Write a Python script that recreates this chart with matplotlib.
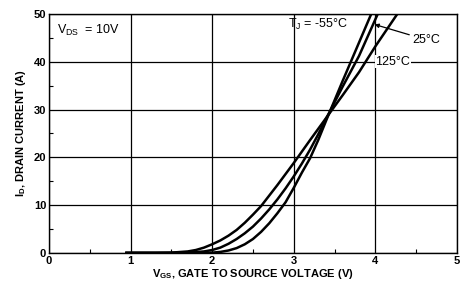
import matplotlib
matplotlib.use("Agg")
import matplotlib.pyplot as plt
from matplotlib.ticker import MultipleLocator

plt.rcParams['font.family'] = ['Liberation Sans Narrow', 'Liberation Sans', 'DejaVu Sans']

# transfer characteristics
vgs_125 = [0.95, 1.3, 1.5, 1.7, 1.8, 1.9, 2.0, 2.1, 2.2, 2.3, 2.4, 2.5, 2.6, 2.8, 3.0, 3.2, 3.4, 3.6, 3.8, 4.0, 4.27]
id_125 = [0, 0, 0.05, 0.3, 0.6, 1.1, 1.8, 2.6, 3.6, 4.8, 6.3, 8.0, 9.8, 14.2, 18.8, 23.6, 28.3, 33.0, 37.8, 43.2, 50]

vgs_25 = [0.95, 1.5, 1.7, 1.9, 2.0, 2.1, 2.2, 2.3, 2.4, 2.5, 2.6, 2.7, 2.8, 2.9, 3.0, 3.1, 3.2, 3.3, 3.4, 3.6, 3.8, 4.03]
id_25 = [0, 0, 0.05, 0.3, 0.6, 1.1, 1.9, 2.9, 4.1, 5.5, 7.2, 9.1, 11.2, 13.5, 16.0, 18.7, 21.6, 24.8, 28.2, 34.8, 41.2, 50]

vgs_m55 = [0.95, 1.8, 2.0, 2.1, 2.2, 2.3, 2.4, 2.5, 2.6, 2.7, 2.8, 2.9, 3.0, 3.1, 3.2, 3.3, 3.4, 3.6, 3.8, 3.95]
id_m55 = [0, 0, 0.05, 0.2, 0.5, 1.0, 1.8, 2.9, 4.4, 6.2, 8.3, 10.6, 13.6, 16.8, 19.8, 23.6, 27.8, 36.0, 44.0, 50]

fig = plt.figure(figsize=(4.62, 2.90), dpi=100)
ax = fig.add_axes([0.106, 0.128, 0.883, 0.824])

ax.plot(vgs_125, id_125, color='black', lw=1.8)
ax.plot(vgs_25, id_25, color='black', lw=1.8)
ax.plot(vgs_m55, id_m55, color='black', lw=1.8)

ax.set_xlim(0, 5)
ax.set_ylim(0, 50)
ax.xaxis.set_major_locator(MultipleLocator(1))
ax.yaxis.set_major_locator(MultipleLocator(10))
ax.xaxis.set_minor_locator(MultipleLocator(0.5))
ax.yaxis.set_minor_locator(MultipleLocator(5))
ax.grid(True, which='major', color='black', lw=0.9)
ax.tick_params(which='major', length=0, labelsize=8, pad=2)
ax.tick_params(which='minor', direction='in', length=3, width=0.8)
for lab in ax.get_xticklabels() + ax.get_yticklabels():
    lab.set_fontweight('bold')
for s in ax.spines.values():
    s.set_linewidth(1.0)

ax.set_xlabel(r'$\mathregular{V_{GS}}$, GATE TO SOURCE VOLTAGE (V)', fontsize=8, fontweight='bold', labelpad=1)
ax.set_ylabel(r'$\mathregular{I_D}$, DRAIN CURRENT (A)', fontsize=8, fontweight='bold', labelpad=4)

ax.text(0.1, 46.5, r'$\mathregular{V_{DS}}$  = 10V', fontsize=9, va='center', ha='left',
        bbox=dict(facecolor='white', edgecolor='none', pad=1))
ax.text(2.93, 47.8, r'$\mathregular{T_J}$ = -55°C', fontsize=9, va='center', ha='left')
ax.text(4.0, 40, '125°C', fontsize=9, va='center', ha='left',
        bbox=dict(facecolor='white', edgecolor='none', pad=0.5))
ax.annotate('25°C', xy=(3.99, 47.8), xytext=(4.45, 44.6), fontsize=9, va='center', ha='left',
            arrowprops=dict(arrowstyle='-|>', color='black', lw=0.9, mutation_scale=6, shrinkA=0, shrinkB=0))

fig.savefig('out.png', dpi=100)
